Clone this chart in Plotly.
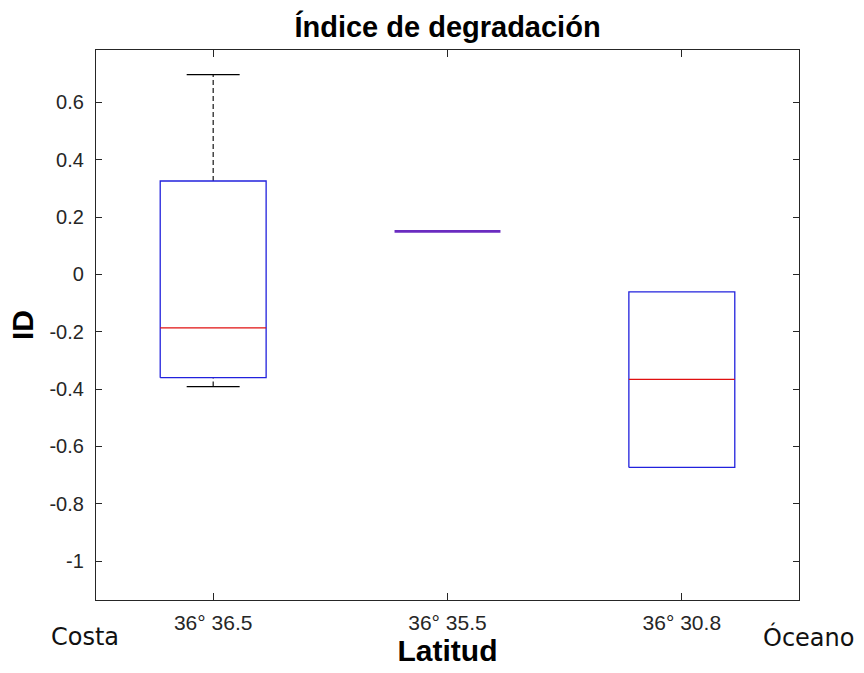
import plotly.graph_objects as go

# ---- data ----
categories = ["36° 36.5", "36° 35.5", "36° 30.8"]
positions = [1, 2, 3]
lower_whisker = [-0.391, 0.150, -0.673]
q1 = [-0.360, 0.150, -0.673]
median = [-0.186, 0.150, -0.366]
q3 = [0.326, 0.150, -0.061]
upper_whisker = [0.697, 0.150, -0.061]

y_ticks = [-1.0, -0.8, -0.6, -0.4, -0.2, 0.0, 0.2, 0.4, 0.6]
y_tick_labels = ["-1", "-0.8", "-0.6", "-0.4", "-0.2", "0", "0.2", "0.4", "0.6"]

# ---- geometry helpers (in data units) ----
BOX_HALF = 0.226
CAP_HALF = 0.113

stem_x, stem_y = [], []
cap_x, cap_y = [], []
box_x, box_y = [], []
med_x, med_y = [], []
deg_x, deg_y = [], []

for p, lw, a, m, b, uw in zip(positions, lower_whisker, q1, median, q3, upper_whisker):
    if uw > b:
        stem_x += [p, p, None]
        stem_y += [b, uw, None]
        cap_x += [p - CAP_HALF, p + CAP_HALF, None]
        cap_y += [uw, uw, None]
    if lw < a:
        stem_x += [p, p, None]
        stem_y += [lw, a, None]
        cap_x += [p - CAP_HALF, p + CAP_HALF, None]
        cap_y += [lw, lw, None]
    if b > a:
        box_x += [p - BOX_HALF, p + BOX_HALF, p + BOX_HALF, p - BOX_HALF, p - BOX_HALF, None]
        box_y += [a, a, b, b, a, None]
        med_x += [p - BOX_HALF, p + BOX_HALF, None]
        med_y += [m, m, None]
    else:
        deg_x += [p - BOX_HALF, p + BOX_HALF, None]
        deg_y += [m, m, None]

fig = go.Figure()
fig.add_trace(go.Scatter(x=stem_x, y=stem_y, mode="lines",
                         line=dict(color="black", width=1.1, dash="5px,3px"),
                         hoverinfo="skip", showlegend=False))
fig.add_trace(go.Scatter(x=cap_x, y=cap_y, mode="lines",
                         line=dict(color="black", width=1.3),
                         hoverinfo="skip", showlegend=False))
fig.add_trace(go.Scatter(x=box_x, y=box_y, mode="lines",
                         line=dict(color="#2222dd", width=1.3),
                         hoverinfo="skip", showlegend=False))
fig.add_trace(go.Scatter(x=med_x, y=med_y, mode="lines",
                         line=dict(color="#e01010", width=1.3),
                         hoverinfo="skip", showlegend=False))
fig.add_trace(go.Scatter(x=deg_x, y=deg_y, mode="lines",
                         line=dict(color="#6a2bc0", width=2.8),
                         hoverinfo="skip", showlegend=False))

axis_common = dict(
    showline=True, linecolor="#262626", linewidth=1.2, mirror="ticks",
    ticks="inside", tickcolor="#262626", tickwidth=1.1,
    showgrid=False, zeroline=False,
)
tick_font_family = "Liberation Sans, Arial, sans-serif"

fig.update_layout(
    width=864, height=673,
    margin=dict(l=96, r=65, t=50, b=71),
    paper_bgcolor="white", plot_bgcolor="white",
    title=dict(text="Índice de degradación", x=0.5, xref="paper", xanchor="center",
               y=1 - 27 / 673, yref="container", yanchor="middle",
               font=dict(family=tick_font_family, size=29, color="black", weight="bold")),
    xaxis=dict(range=[0.5, 3.5], tickvals=positions, ticktext=categories, ticklen=7,
               ticklabelstandoff=4,
               tickfont=dict(family=tick_font_family, size=21, color="#262626"),
               title=dict(text="Latitud", standoff=6,
                          font=dict(family=tick_font_family, size=30, color="black", weight="bold")),
               **axis_common),
    yaxis=dict(range=[-1.1355, 0.783], tickvals=y_ticks, ticktext=y_tick_labels, ticklen=6,
               ticklabelstandoff=7,
               tickfont=dict(family=tick_font_family, size=20, color="#262626"),
               title=dict(text="ID", standoff=6,
                          font=dict(family=tick_font_family, size=30, color="black", weight="bold")),
               **axis_common),
    annotations=[
        dict(text="Costa", xref="paper", yref="paper", x=(85 - 96) / 703, y=-0.068,
             xanchor="center", yanchor="middle", showarrow=False,
             font=dict(family="DejaVu Sans, sans-serif", size=24, color="#111111")),
        dict(text="Óceano", xref="paper", yref="paper", x=(808 - 96) / 703, y=-0.068,
             xanchor="center", yanchor="middle", showarrow=False,
             font=dict(family="DejaVu Sans, sans-serif", size=24, color="#111111")),
    ],
)

fig.write_html("out.html",
               config={"displayModeBar": False},
               post_script="document.body.style.margin='0';document.body.style.overflow='hidden';")
